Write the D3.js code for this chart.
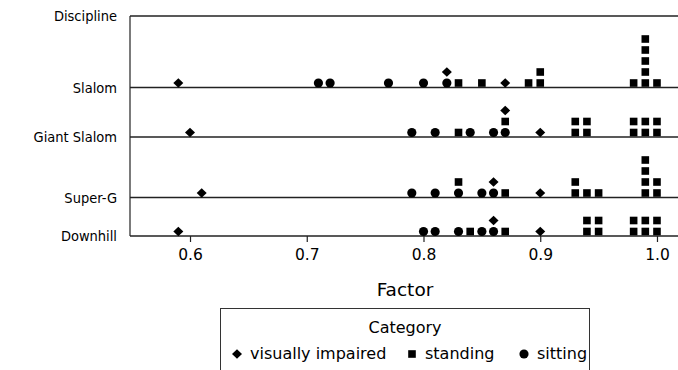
<!DOCTYPE html>
<html><head><meta charset="utf-8">
<script src="https://cdn.jsdelivr.net/npm/d3@7"></script>
<style>body{margin:0;background:#fff}svg{display:block}text{font-family:"DejaVu Sans",Verdana,sans-serif;fill:#000}</style>
</head><body><svg id="c" width="678" height="370"></svg>
<script>
const disciplines = ["Slalom", "Giant Slalom", "Super-G", "Downhill"];
const sitting = [
  [0.71, 0.72, 0.77, 0.80, 0.82],
  [0.79, 0.81, 0.84, 0.86, 0.87],
  [0.79, 0.81, 0.83, 0.85, 0.86],
  [0.80, 0.81, 0.83, 0.85, 0.86]
];
const standing = [
  [0.83, 0.85, 0.89, 0.90, 0.90, 0.98, 0.99, 0.99, 0.99, 0.99, 0.99, 1.00],
  [0.83, 0.87, 0.93, 0.93, 0.94, 0.94, 0.98, 0.98, 0.99, 0.99, 1.00, 1.00],
  [0.83, 0.87, 0.93, 0.93, 0.94, 0.95, 0.99, 0.99, 0.99, 0.99, 1.00, 1.00],
  [0.84, 0.87, 0.94, 0.94, 0.95, 0.95, 0.98, 0.98, 0.99, 0.99, 1.00, 1.00]
];
const visuallyImpaired = [
  [0.59, 0.82, 0.87],
  [0.60, 0.87, 0.90],
  [0.61, 0.86, 0.90],
  [0.59, 0.86, 0.90]
];
const categories = ["visually impaired", "standing", "sitting"];
const xTicks = [0.6, 0.7, 0.8, 0.9, 1.0];
const axisTitle = "Factor";
const rowTitle = "Discipline";
const legendTitle = "Category";

(function () {
const svg = d3.select("#c");
const pLeft = 130, pRight = 678, pTop = 16;
const step = 11, pad = 16.5;
const x = d3.scaleLinear().domain([0.5486, 1.018]).range([pLeft, pRight]);

const rows = disciplines.map((d, i) => {
  const pts = [];
  const counts = new Map();
  const add = (v, cat) => {
    const k = v.toFixed(2);
    const n = counts.get(k) || 0;
    counts.set(k, n + 1);
    pts.push({v, cat, level: n});
  };
  sitting[i].forEach(v => add(v, "sitting"));
  standing[i].forEach(v => add(v, "standing"));
  visuallyImpaired[i].forEach(v => add(v, "visually impaired"));
  const maxStack = d3.max(Array.from(counts.values()));
  return {name: d, pts, maxStack};
});
let yAcc = pTop;
rows.forEach(r => { r.top = yAcc; yAcc += step * r.maxStack + pad; r.base = yAcc; });
const pBottom = yAcc;

const lineColor = "#222";
const labelFont = "'DejaVu Sans Condensed', 'DejaVu Sans', sans-serif";
svg.append("line").attr("x1", pLeft).attr("x2", pRight).attr("y1", pTop).attr("y2", pTop)
  .attr("stroke", lineColor).attr("stroke-width", 1.5);
svg.append("line").attr("x1", pLeft).attr("x2", pLeft).attr("y1", pTop).attr("y2", pBottom)
  .attr("stroke", lineColor).attr("stroke-width", 1.2);
svg.append("text").attr("x", 117).attr("y", pTop).attr("dy", "0.35em")
  .attr("text-anchor", "end").attr("font-size", 14.5).style("font-family", labelFont).text(rowTitle);

const diamond = {
  draw(ctx, size) {
    const r = Math.sqrt(size / 2);
    ctx.moveTo(0, -r * 0.95); ctx.lineTo(r, 0); ctx.lineTo(0, r * 0.95); ctx.lineTo(-r, 0); ctx.closePath();
  }
};
const sym = {
  "sitting": d3.symbol().type(d3.symbolCircle).size(66),
  "standing": d3.symbol().type(d3.symbolSquare).size(58),
  "visually impaired": d3.symbol().type(diamond).size(50)
};

rows.forEach(r => {
  svg.append("line").attr("x1", pLeft).attr("x2", pRight).attr("y1", r.base).attr("y2", r.base)
    .attr("stroke", lineColor).attr("stroke-width", 1.5);
  svg.append("text").attr("x", 117).attr("y", r.base).attr("dy", "0.35em")
    .attr("text-anchor", "end").attr("font-size", 14.5).style("font-family", labelFont).text(r.name);
  svg.append("g").selectAll("path").data(r.pts).join("path")
    .attr("d", d => sym[d.cat]())
    .attr("transform", d => `translate(${x(d.v)},${r.base - 4.5 - d.level * step})`)
    .attr("fill", "#000");
});

const ax = svg.append("g").attr("transform", `translate(0,${pBottom})`)
  .call(d3.axisBottom(x).tickValues(xTicks).tickFormat(d3.format(".1f")).tickSize(6).tickPadding(7));
ax.select(".domain").remove();
ax.selectAll(".tick line").attr("stroke", lineColor).attr("stroke-width", 1.2);
ax.selectAll(".tick text").attr("font-size", 15.5).attr("font-family", "DejaVu Sans, Verdana, sans-serif");

svg.append("text").attr("x", 405).attr("y", 290).attr("dy", "0.35em")
  .attr("text-anchor", "middle").attr("font-size", 18.5).text(axisTitle);

const lg = svg.append("g");
lg.append("rect").attr("x", 220.5).attr("y", 308.5).attr("width", 369).attr("height", 70)
  .attr("fill", "none").attr("stroke", "#333").attr("stroke-width", 1);
lg.append("text").attr("x", 405).attr("y", 327).attr("dy", "0.35em")
  .attr("text-anchor", "middle").attr("font-size", 16).text(legendTitle);
const legX = [237, 412, 524];
categories.forEach((c, i) => {
  lg.append("path").attr("d", sym[c]())
    .attr("transform", `translate(${legX[i]},354)`)
    .attr("fill", "#000");
  lg.append("text").attr("x", legX[i] + 13).attr("y", 353).attr("dy", "0.35em")
    .attr("font-size", 16).text(c);
});
})();
</script></body></html>
